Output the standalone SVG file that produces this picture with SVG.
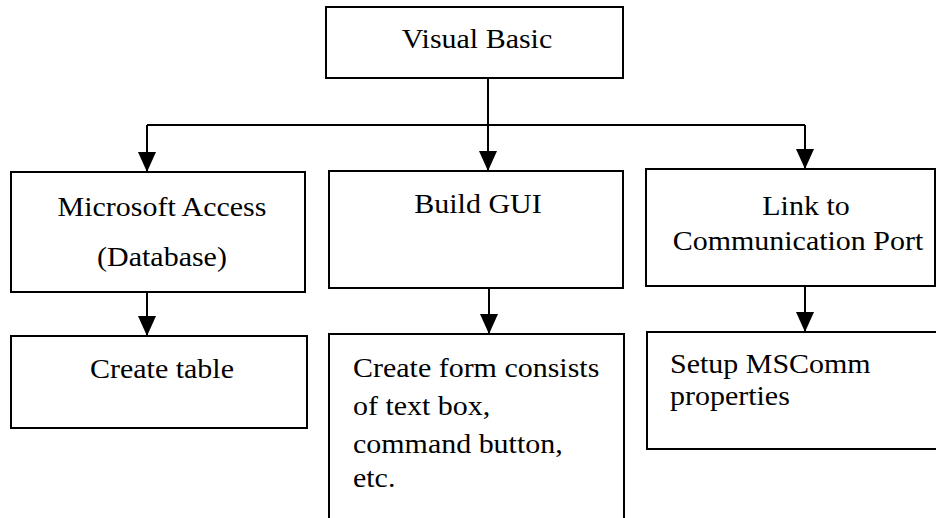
<svg xmlns="http://www.w3.org/2000/svg" width="936" height="518" viewBox="0 0 936 518">
<style>
.box{fill:#fff;stroke:#000;stroke-width:2}
.lbl{font-family:"Liberation Serif","Times New Roman",serif;font-size:27px;fill:#000}
.c{text-anchor:middle}
.conn path{fill:none;stroke:#000;stroke-width:2}
</style>
<defs>
<marker id="ah" markerUnits="userSpaceOnUse" markerWidth="20" markerHeight="22" viewBox="0 0 18 20" refX="9" refY="20" orient="auto-start-reverse">
<path d="M0,0 L18,0 L9,20 Z" fill="#000" transform="rotate(0)"/>
</marker>
<marker id="ahd" markerUnits="userSpaceOnUse" markerWidth="18" markerHeight="20" viewBox="0 0 18 20" refX="9" refY="20" orient="0">
<path d="M0,0 L18,0 L9,20 Z" fill="#000"/>
</marker>
</defs>
<rect width="936" height="518" fill="#fff"/>
<g id="n_vb"><rect class="box" x="326" y="7" width="297" height="71"/><text class="lbl c" transform="translate(477,48) scale(1.11,1)">Visual Basic</text></g>
<g id="n_access"><rect class="box" x="11" y="172" width="294" height="120"/><text class="lbl c" transform="translate(162,216) scale(1.11,1)">Microsoft Access</text><text class="lbl c" transform="translate(162,266) scale(1.11,1)">(Database)</text></g>
<g id="n_gui"><rect class="box" x="329" y="171" width="294" height="117"/><text class="lbl c" transform="translate(478,213) scale(1.11,1)">Build GUI</text></g>
<g id="n_link"><rect class="box" x="646" y="169" width="289" height="117"/><text class="lbl c" transform="translate(806,215) scale(1.11,1)">Link to</text><text class="lbl c" transform="translate(798,250) scale(1.11,1)">Communication Port</text></g>
<g id="n_table"><rect class="box" x="11" y="336" width="296" height="92"/><text class="lbl c" transform="translate(162,378) scale(1.11,1)">Create table</text></g>
<g id="n_form"><rect class="box" x="329" y="334" width="295" height="190"/><text class="lbl" transform="translate(353,377) scale(1.11,1)">Create form consists</text><text class="lbl" transform="translate(353,415) scale(1.11,1)">of text box,</text><text class="lbl" transform="translate(353,453) scale(1.11,1)">command button,</text><text class="lbl" transform="translate(353,487) scale(1.11,1)">etc.</text></g>
<g id="n_setup"><rect class="box" x="647" y="332" width="292" height="117"/><text class="lbl" transform="translate(670,373) scale(1.11,1)">Setup MSComm</text><text class="lbl" transform="translate(670,405) scale(1.11,1)">properties</text></g>
<g class="conn" id="connectors">
<path d="M147,125 H805"/>
<path d="M488,78 V171" marker-end="url(#ahd)"/>
<path d="M147,125 V172" marker-end="url(#ahd)"/>
<path d="M805,125 V169" marker-end="url(#ahd)"/>
<path d="M147,292 V336" marker-end="url(#ahd)"/>
<path d="M489,288 V334" marker-end="url(#ahd)"/>
<path d="M805,286 V332" marker-end="url(#ahd)"/>
</g>
</svg>
